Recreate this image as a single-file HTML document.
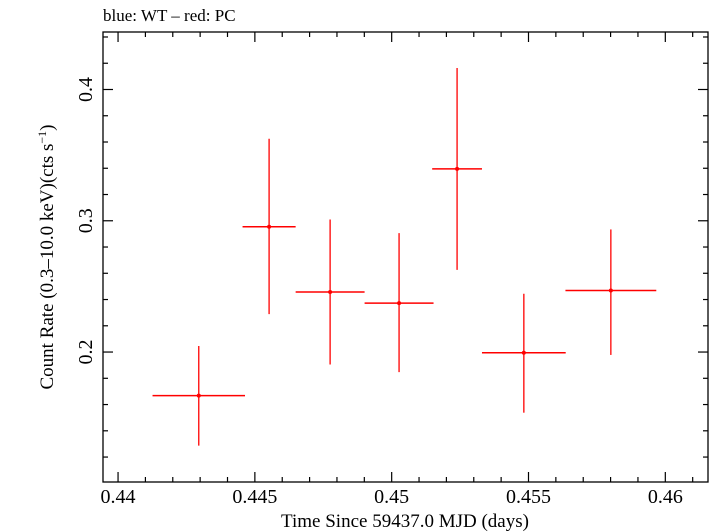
<!DOCTYPE html>
<html><head><meta charset="utf-8"><style>
body{margin:0;background:#fff;}
svg{display:block;font-family:"Liberation Serif",serif;}
</style></head><body>
<svg id="chart" width="709" height="532" viewBox="0 0 709 532">
<text x="103" y="21" font-size="17">blue: WT – red: PC</text>
<rect x="103" y="32" width="605" height="450" fill="none" stroke="#000" stroke-width="1.3"/>
<g id="ticks"></g>
<g id="marks"></g>
<text x="405" y="527" font-size="19" text-anchor="middle">Time Since 59437.0 MJD (days)</text>
<text transform="translate(53,257) rotate(-90)" font-size="19" text-anchor="middle">Count Rate (0.3–10.0 keV)(cts s<tspan font-size="12" dy="-7">−1</tspan><tspan dy="7">)</tspan></text>
</svg>
<script>
const times=[0.44295,0.44552,0.44775,0.45027,0.45239,0.45483,0.45801];
const timeErr=[0.00169,0.00097,0.00126,0.00126,0.00091,0.00153,0.00166];
const rates=[0.1668,0.2954,0.2457,0.2373,0.3395,0.1995,0.2469];
const rateHi=[0.2046,0.3625,0.3010,0.2906,0.4164,0.2444,0.2934];
const rateLo=[0.1287,0.2289,0.1905,0.1847,0.2626,0.1538,0.1978];
const xTickLabels=["0.44","0.445","0.45","0.455","0.46"];
const yTickLabels=["0.2","0.3","0.4"];
const X0=103,X1=708,Y0=482,Y1=32;
const xmin=0.43945,xmax=0.46156,ymin=0.101,ymax=0.4438;
function sx(v){return X0+(v-xmin)/(xmax-xmin)*(X1-X0);}
function sy(v){return Y0-(v-ymin)/(ymax-ymin)*(Y0-Y1);}
const NS="http://www.w3.org/2000/svg";
function mk(tag,attrs,parent){const e=document.createElementNS(NS,tag);for(const k in attrs)e.setAttribute(k,attrs[k]);parent.appendChild(e);return e;}
const tg=document.getElementById('ticks');
for(let i=0;i<=22;i++){const v=0.44+i*0.001;const x=sx(v);if(x>X1)break;const major=i%5===0;const L=major?10:5;
const t1=mk('line',{x1:x,x2:x,y1:Y0,y2:Y0-L,stroke:'#000','stroke-width':1.2},tg);


const t2=mk('line',{x1:x,x2:x,y1:Y1,y2:Y1+L,stroke:'#000','stroke-width':1.2},tg);

}
xTickLabels.forEach(s=>{const t=mk('text',{x:sx(parseFloat(s)),y:503,'font-size':20,'text-anchor':'middle'},tg);t.textContent=s;

});
for(let i=0;i<=20;i++){const v=0.10+i*0.02;const y=sy(v);if(y<Y1||y>Y0)continue;const major=Math.abs(v*10-Math.round(v*10))<1e-6;const L=major?10:5;
const t1=mk('line',{x1:X0,x2:X0+L,y1:y,y2:y,stroke:'#000','stroke-width':1.2},tg);


const t2=mk('line',{x1:X1,x2:X1-L,y1:y,y2:y,stroke:'#000','stroke-width':1.2},tg);

}
yTickLabels.forEach(s=>{const y=sy(parseFloat(s));const t=mk('text',{transform:`translate(92,${y}) rotate(-90)`,'font-size':20,'text-anchor':'middle'},tg);t.textContent=s;

});
const mg=document.getElementById('marks');
times.forEach((t,i)=>{const g=mk('g',{},mg);


mk('line',{x1:sx(t-timeErr[i]),x2:sx(t+timeErr[i]),y1:sy(rates[i]),y2:sy(rates[i]),stroke:'#f00','stroke-width':1.5},g);
mk('line',{x1:sx(t),x2:sx(t),y1:sy(rateHi[i]),y2:sy(rateLo[i]),stroke:'#f00','stroke-width':1.3},g);
mk('circle',{cx:sx(t),cy:sy(rates[i]),r:2,fill:'#f00'},g);});
</script>
</body></html>
